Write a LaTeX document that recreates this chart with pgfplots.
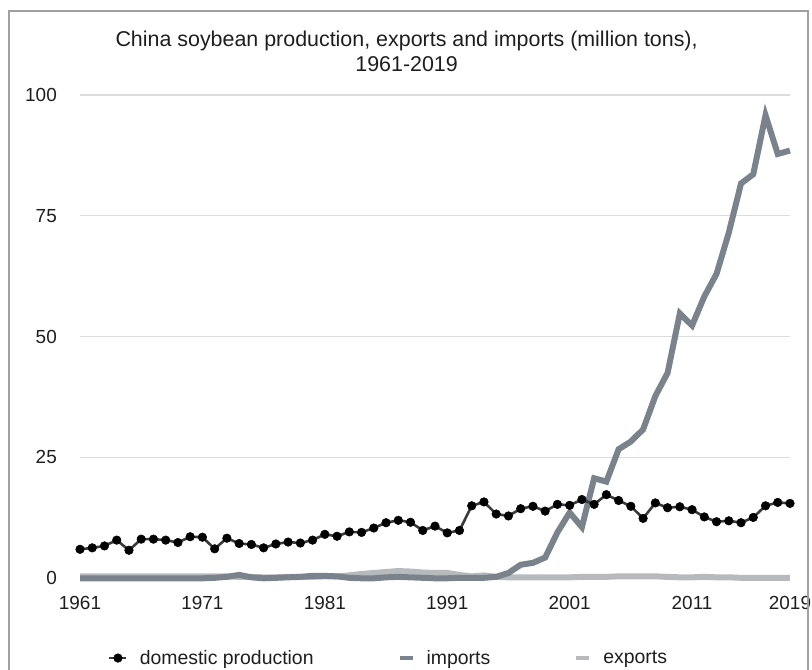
\documentclass[border=0pt]{standalone}
\usepackage{fontspec}
\setmainfont{Liberation Sans}
\usepackage{pgfplots}
\usepackage{pgfplotstable}
\pgfplotsset{compat=1.18}

\definecolor{prodline}{HTML}{3A3A3A}
\definecolor{impcol}{HTML}{7A838C}
\definecolor{expcol}{HTML}{B7BABD}
\definecolor{gridcol}{HTML}{DCDCDC}
\definecolor{framecol}{HTML}{A0A0A0}
\definecolor{txt}{HTML}{1E1E1E}

\pgfplotsset{
    dotlegend/.style={legend image code/.code={\draw[mark repeat=2, mark phase=2, ##1]
        plot coordinates {(0bp,0bp) (8.5bp,0bp) (17bp,0bp)};}},
    barlegend/.style={legend image code/.code={\draw[##1, line width=4bp] (0bp,0bp) -- (13bp,0bp);}},
}

% year, domestic production, imports, exports (million tons)
\pgfplotstableread{
year prod imp exp
1961 6.0 0.0 0.4
1962 6.3 0.0 0.4
1963 6.7 0.0 0.4
1964 7.9 0.0 0.4
1965 5.8 0.0 0.4
1966 8.1 0.0 0.4
1967 8.1 0.0 0.4
1968 7.9 0.0 0.4
1969 7.4 0.0 0.4
1970 8.6 0.0 0.4
1971 8.5 0.0 0.4
1972 6.1 0.1 0.4
1973 8.3 0.3 0.4
1974 7.2 0.7 0.3
1975 7.0 0.2 0.3
1976 6.3 0.0 0.2
1977 7.1 0.1 0.2
1978 7.5 0.2 0.3
1979 7.3 0.3 0.3
1980 7.9 0.5 0.3
1981 9.1 0.5 0.4
1982 8.7 0.4 0.4
1983 9.6 0.1 0.6
1984 9.5 0.0 0.9
1985 10.4 0.0 1.1
1986 11.5 0.2 1.3
1987 12.0 0.3 1.5
1988 11.6 0.2 1.4
1989 9.9 0.1 1.2
1990 10.8 0.0 1.1
1991 9.4 0.0 1.1
1992 9.9 0.1 0.7
1993 15.0 0.1 0.4
1994 15.8 0.1 0.6
1995 13.3 0.3 0.3
1996 12.9 1.1 0.2
1997 14.4 2.8 0.2
1998 14.9 3.2 0.2
1999 13.9 4.3 0.2
2000 15.3 9.5 0.2
2001 15.1 13.6 0.2
2002 16.3 10.6 0.3
2003 15.3 20.7 0.3
2004 17.3 20.0 0.3
2005 16.1 26.7 0.4
2006 14.9 28.3 0.4
2007 12.4 30.8 0.4
2008 15.6 37.7 0.4
2009 14.6 42.5 0.3
2010 14.8 54.8 0.2
2011 14.2 52.3 0.2
2012 12.7 58.3 0.3
2013 11.7 63.0 0.2
2014 11.9 71.5 0.2
2015 11.5 81.7 0.1
2016 12.6 83.6 0.1
2017 15.0 95.8 0.1
2018 15.7 87.8 0.1
2019 15.5 88.5 0.1
}\soydata

\begin{document}
\begin{tikzpicture}
\path[use as bounding box] (0,0) rectangle (812bp,670bp);
\begin{axis}[
    at={(80bp,91.7bp)}, anchor=south west,
    scale only axis,
    width=710bp, height=483.3bp,
    xmin=1961, xmax=2019,
    ymin=0, ymax=100,
    clip=false,
    axis line style={draw=none},
    major tick length=0pt,
    xtick={1961,1971,1981,1991,2001,2011,2019},
    ytick={0,25,50,75,100},
    ymajorgrids,
    grid style={gridcol, line width=1.3bp},
    /pgf/number format/1000 sep={},
    /pgf/number format/assume math mode=true,
    tick label style={font=\fontsize{19}{21}\selectfont, text=txt},
    yticklabel style={inner sep=0pt, anchor=east, xshift=-23bp},
    xticklabel style={inner sep=0pt, anchor=north, yshift=-18bp},
    title={China soybean production, exports and imports (million tons),\\1961-2019},
    title style={at={(0.460,1.120)}, anchor=north, inner sep=0pt, align=center,
        font=\fontsize{21.5}{24.5}\selectfont, text=txt},
    legend columns=3,
    reverse legend,
    legend style={at={(0.0394,-0.165)}, anchor=west, draw=none, fill=none,
        inner sep=0pt, font=\fontsize{19.5}{22}\selectfont, text=txt,
        nodes={inner sep=0pt},
        column sep=12bp,
        /tikz/every even column/.append style={column sep=84bp}},
    legend cell align=left,
]
\addplot[expcol, line width=6bp, mark=none, barlegend]
    table[x=year, y=exp] {\soydata};
\addlegendentry{exports}
\addplot[impcol, line width=6bp, mark=none, barlegend]
    table[x=year, y=imp] {\soydata};
\addlegendentry{imports}
\addplot[prodline, line width=2.6bp, mark=*,
    mark options={fill=black, draw=black, line width=0.5bp}, mark size=4.3bp,
    dotlegend]
    table[x=year, y=prod] {\soydata};
\addlegendentry{domestic production}
\end{axis}
\draw[framecol, line width=1.5bp] (9bp,0bp) -- (9bp,659bp) -- (808bp,659bp) -- (808bp,0bp);
\end{tikzpicture}
\end{document}
